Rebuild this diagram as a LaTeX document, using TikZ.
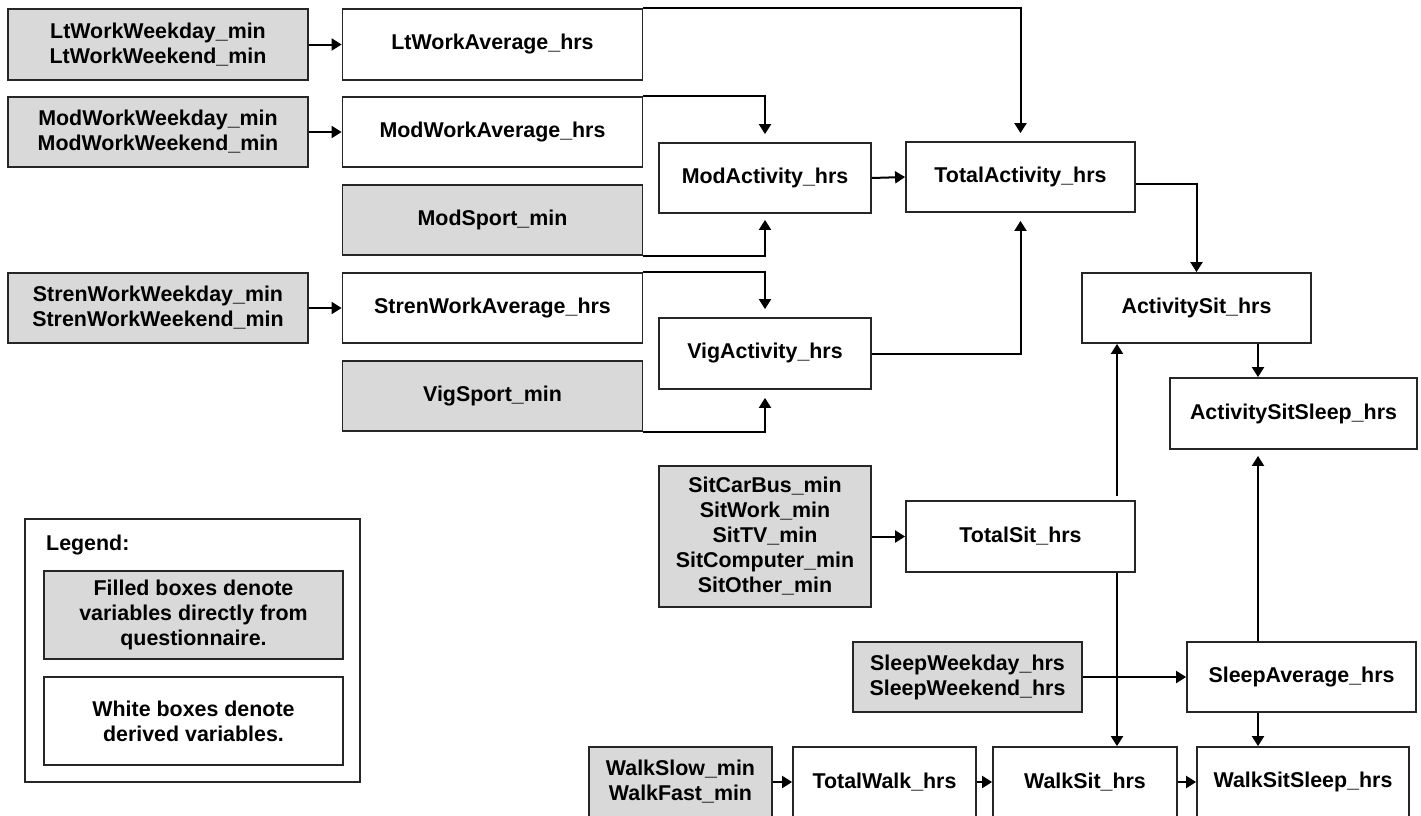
\documentclass[tikz,border=0pt]{standalone}
\usepackage{fontspec}
\setmainfont{Liberation Sans}
\usetikzlibrary{arrows.meta}

\begin{document}
\begin{tikzpicture}[x=1pt,y=-1pt,
    every node/.style={font=\fontsize{21.4}{25}\selectfont\bfseries, align=center, inner sep=0pt},
    srcbox/.style={draw=black!85, fill=gray!30, line width=1.8pt},
    derbox/.style={draw=black!85, fill=white, line width=1.8pt},
    link/.style={line width=2pt, -{Triangle[length=10pt,width=12pt]}},
    gap/.style={shorten >=8pt}]
			\useasboundingbox (0,0) rectangle (1421,815);
			\clip (0,0) rectangle (1421,815);

			% work and sport rows
			\node[srcbox, minimum width=300pt, minimum height=71pt] (ltwk) at (158,44.5) {LtWorkWeekday\_min\\LtWorkWeekend\_min};
			\node[derbox, minimum width=300pt, minimum height=71pt] (ltavg) at (492.5,44.5) {LtWorkAverage\_hrs};
			\node[srcbox, minimum width=300pt, minimum height=70pt] (modwk) at (158,132) {ModWorkWeekday\_min\\ModWorkWeekend\_min};
			\node[derbox, minimum width=300pt, minimum height=70pt] (modavg) at (492.5,132) {ModWorkAverage\_hrs};
			\node[srcbox, minimum width=300pt, minimum height=70pt] (modsport) at (492.5,220) {ModSport\_min};
			\node[srcbox, minimum width=300pt, minimum height=70pt] (strenwk) at (158,308) {StrenWorkWeekday\_min\\StrenWorkWeekend\_min};
			\node[derbox, minimum width=300pt, minimum height=70pt] (strenavg) at (492.5,308) {StrenWorkAverage\_hrs};
			\node[srcbox, minimum width=300pt, minimum height=70pt] (vigsport) at (492.5,396) {VigSport\_min};

			% activity totals
			\node[derbox, minimum width=212pt, minimum height=70pt] (modact) at (765,178) {ModActivity\_hrs};
			\node[derbox, minimum width=212pt, minimum height=71pt] (vigact) at (765,353.5) {VigActivity\_hrs};
			\node[derbox, minimum width=229pt, minimum height=70pt] (totact) at (1020.5,177) {TotalActivity\_hrs};
			\node[derbox, minimum width=229pt, minimum height=70pt] (actsit) at (1196.5,308) {ActivitySit\_hrs};
			\node[derbox, minimum width=247pt, minimum height=71pt] (actsitsleep) at (1293.5,413.5) {ActivitySitSleep\_hrs};

			% sitting, sleep and walking
			\node[srcbox, minimum width=212pt, minimum height=141pt] (sitsrc) at (765,536.5) {SitCarBus\_min\\SitWork\_min\\SitTV\_min\\SitComputer\_min\\SitOther\_min};
			\node[derbox, minimum width=229pt, minimum height=71pt] (totsit) at (1020.5,536.5) {TotalSit\_hrs};
			\node[srcbox, minimum width=229pt, minimum height=70pt] (sleepsrc) at (967.5,677) {SleepWeekday\_hrs\\SleepWeekend\_hrs};
			\node[derbox, minimum width=229pt, minimum height=70pt] (sleepavg) at (1301.5,677) {SleepAverage\_hrs};
			\node[srcbox, minimum width=183pt, minimum height=70pt] (walksrc) at (680.5,782) {WalkSlow\_min\\WalkFast\_min};
			\node[derbox, minimum width=183pt, minimum height=70pt] (totwalk) at (884.5,782) {TotalWalk\_hrs};
			\node[derbox, minimum width=184pt, minimum height=70pt] (walksit) at (1085,782) {WalkSit\_hrs};
			\node[derbox, minimum width=212pt, minimum height=70pt] (walksitsleep) at (1303,782) {WalkSitSleep\_hrs};

			% legend
			\node[derbox, minimum width=335pt, minimum height=263pt] (legend) at (192.5,650.5) {};
			\node[anchor=west] (legendtitle) at (46,545) {Legend:};
			\node[srcbox, minimum width=299pt, minimum height=88pt] (legendsrc) at (193.5,615) {Filled boxes denote\\variables directly from\\questionnaire.};
			\node[derbox, minimum width=299pt, minimum height=88pt] (legendder) at (193.5,721) {White boxes denote\\derived variables.};

			\coordinate (sitcol) at (1117,0); % column of the sitting line
			\coordinate (sleepcol) at (1258,0); % column of the sleep line

			% connectors
			\draw[link] (ltwk.east) -- (ltavg.west);
			\draw[link] (modwk.east) -- (modavg.west);
			\draw[link] (strenwk.east) -- (strenavg.west);
			\draw[link, gap] (ltavg.north east) -| (totact.north);
			\draw[link, gap] (modavg.north east) -| (modact.north);
			\draw[link, shorten >=6pt] (modsport.south east) -| (modact.south);
			\draw[link, gap] (strenavg.north east) -| (vigact.north);
			\draw[link, gap] (vigsport.south east) -| (vigact.south);
			\draw[link] (modact.east) -- (totact.west);
			\draw[link, gap] (vigact.east) -| (totact.south);
			\draw[link] ([yshift=-7pt]totact.east) -| (actsit.north);
			\draw[link] (actsit.south -| sleepcol) -- (actsitsleep.north -| sleepcol);
			\draw[link] (sitsrc.east) -- (totsit.west);
			\draw[link] ([yshift=4pt]totsit.north -| sitcol) -- (actsit.south -| sitcol);
			\draw[link] (totsit.south -| sitcol) -- (walksit.north -| sitcol);
			\draw[link] (sleepsrc.east) -- (sleepavg.west);
			\draw[link, shorten >=6pt] (sleepavg.north -| sleepcol) -- (actsitsleep.south -| sleepcol);
			\draw[link] (sleepavg.south -| sleepcol) -- (walksitsleep.north -| sleepcol);
			\draw[link] (walksrc.east) -- (totwalk.west);
			\draw[link] (totwalk.east) -- (walksit.west);
			\draw[link] (walksit.east) -- (walksitsleep.west);
\end{tikzpicture}
\end{document}
